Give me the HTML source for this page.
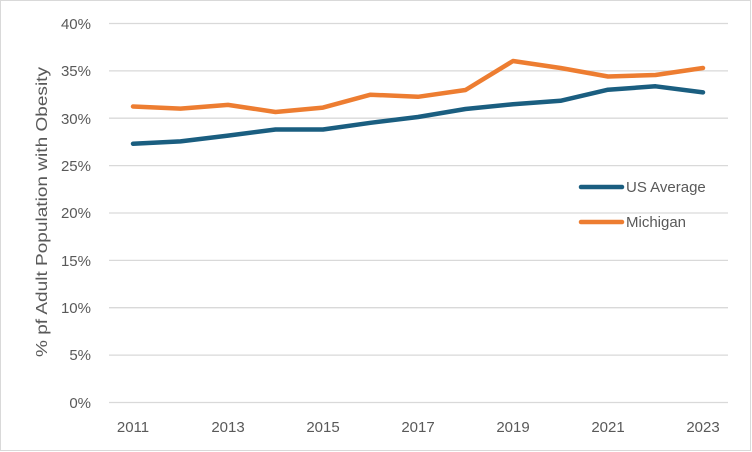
<!DOCTYPE html>
<html><head><style>body{margin:0;background:#fff}svg{display:block}</style></head><body>
<svg width="752" height="452" xmlns="http://www.w3.org/2000/svg" font-family="Liberation Sans, sans-serif">
<rect x="0.5" y="0.5" width="750" height="450" fill="#fff" stroke="#d9d9d9"/>
<g stroke="#d9d9d9" stroke-width="1.3">
<line x1="109" x2="728" y1="23.5" y2="23.5"/><line x1="109" x2="728" y1="70.9" y2="70.9"/>
<line x1="109" x2="728" y1="118.2" y2="118.2"/><line x1="109" x2="728" y1="165.6" y2="165.6"/>
<line x1="109" x2="728" y1="213" y2="213"/><line x1="109" x2="728" y1="260.4" y2="260.4"/>
<line x1="109" x2="728" y1="307.7" y2="307.7"/><line x1="109" x2="728" y1="355.1" y2="355.1"/>
<line x1="109" x2="728" y1="402.5" y2="402.5"/>
</g>
<g font-size="15" fill="#595959" text-anchor="end">
<text x="91" y="29">40%</text><text x="91" y="76">35%</text><text x="91" y="124">30%</text>
<text x="91" y="171">25%</text><text x="91" y="218">20%</text><text x="91" y="266">15%</text>
<text x="91" y="313">10%</text><text x="91" y="360">5%</text><text x="91" y="408">0%</text>
</g>
<g font-size="15" fill="#595959" text-anchor="middle">
<text x="133" y="432">2011</text><text x="228" y="432">2013</text><text x="323" y="432">2015</text>
<text x="418" y="432">2017</text><text x="513" y="432">2019</text><text x="608" y="432">2021</text>
<text x="703" y="432">2023</text>
</g>
<text transform="translate(47,357) rotate(-90)" font-size="16" fill="#595959" textLength="290" lengthAdjust="spacingAndGlyphs">% pf Adult Population with Obesity</text>
<g fill="none" stroke-width="4.5" stroke-linejoin="round" stroke-linecap="round">
<polyline stroke="#ed7d31" points="133,106.5 180.5,108.6 228,104.9 275.5,112 323,107.6 370.5,94.7 418,96.8 465.5,90 513,61 560.5,68 608,76.5 655.5,75 703,68"/>
<polyline stroke="#1a5e80" points="133,143.7 180.5,141.4 228,135.6 275.5,129.5 323,129.5 370.5,122.8 418,117 465.5,109 513,104.2 560.5,100.8 608,89.7 655.5,86.3 703,92.4"/>
<line x1="581" x2="622" y1="187" y2="187" stroke="#1a5e80"/>
<line x1="581" x2="622" y1="222" y2="222" stroke="#ed7d31"/>
</g>
<g font-size="15" fill="#595959">
<text x="626" y="192">US Average</text><text x="626" y="227">Michigan</text>
</g>
</svg>
</body></html>
